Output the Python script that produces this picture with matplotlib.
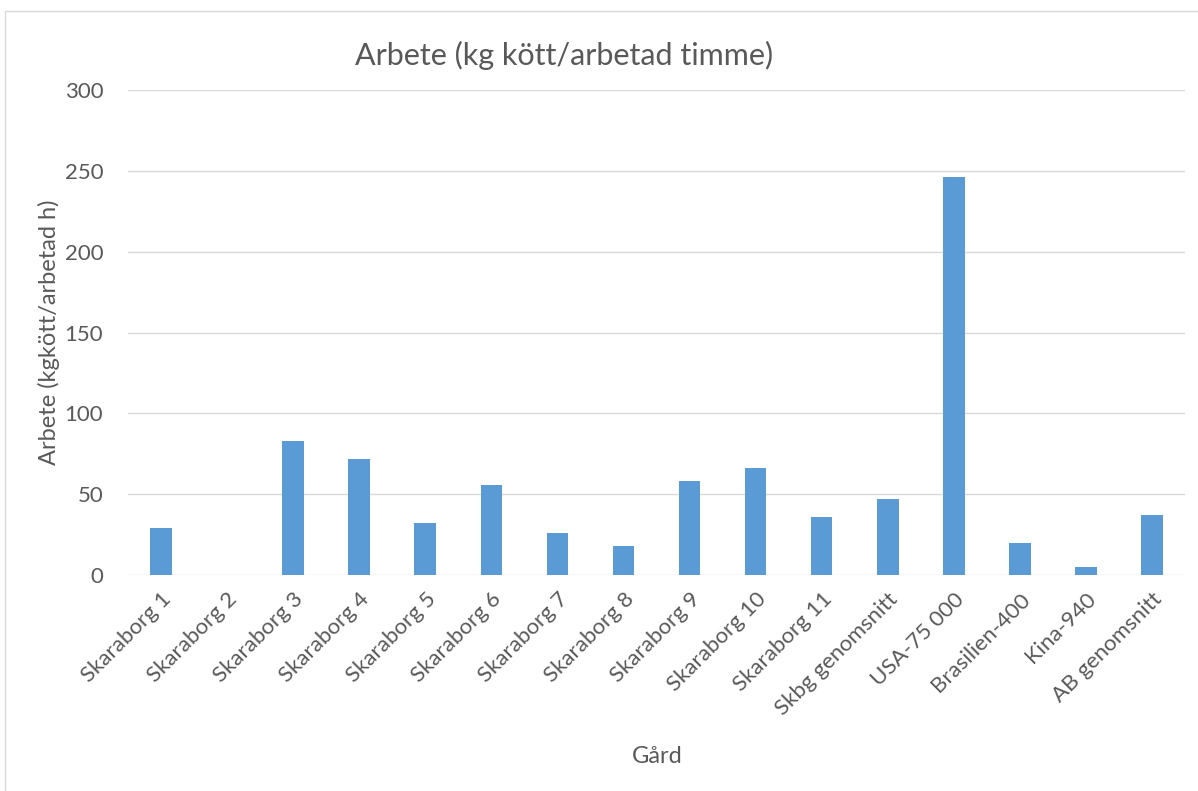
import matplotlib.pyplot as plt
from matplotlib.patches import Rectangle

gardar = ["Skaraborg 1", "Skaraborg 2", "Skaraborg 3", "Skaraborg 4", "Skaraborg 5",
          "Skaraborg 6", "Skaraborg 7", "Skaraborg 8", "Skaraborg 9", "Skaraborg 10",
          "Skaraborg 11", "Skbg genomsnitt", "USA-75 000", "Brasilien-400", "Kina-940",
          "AB genomsnitt"]
arbete = [29, 0, 83, 72, 32, 56, 26, 18, 58, 66, 36, 47, 246, 20, 5, 37]
yticks = [0, 50, 100, 150, 200, 250, 300]

plt.rcParams['font.family'] = ['Lato', 'DejaVu Sans']
grey = '#595959'

fig = plt.figure(figsize=(11.98, 7.91), dpi=100)
ax = fig.add_axes([0.107, 0.273, 0.882, 0.613])

x = range(len(gardar))
ax.bar(x, arbete, width=0.33, color='#5b9bd5', zorder=3)

ax.set_xlim(-0.5, len(gardar) - 0.5)
ax.set_ylim(0, 300)
ax.set_yticks(yticks)
ax.set_xticks(list(x))
ax.set_xticklabels(gardar, rotation=45, ha='right', rotation_mode='anchor')
ax.tick_params(axis='x', length=0, colors=grey, labelsize=16, pad=10)
ax.tick_params(axis='y', length=0, colors=grey, labelsize=16, pad=18)
ax.grid(axis='y', color='#d9d9d9', linewidth=1, zorder=0)
for s in ax.spines.values():
    s.set_visible(False)

ax.set_ylabel("Arbete (kgkött/arbetad h)", color=grey, fontsize=17, labelpad=3)
fig.text(0.549, 0.035, "Gård", color=grey, fontsize=17, ha='center')
fig.text(0.471, 0.918, "Arbete (kg kött/arbetad timme)", color=grey, fontsize=22, ha='center')

# ram runt diagrammet
fig.patches.append(Rectangle((0.004, -0.01), 1.1, 0.996, transform=fig.transFigure,
                             fill=False, edgecolor='#d9d9d9', linewidth=1))

fig.savefig("out.png", dpi=100)
